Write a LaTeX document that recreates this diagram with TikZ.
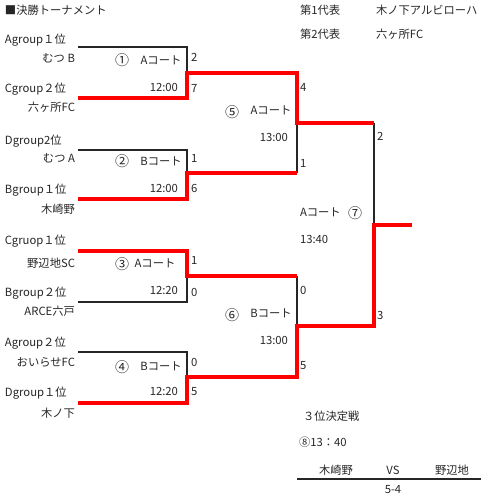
\documentclass[tikz,border=0pt]{standalone}
\usepackage{fontspec}
\setmainfont{Noto Sans CJK JP}
\begin{document}
\begin{tikzpicture}[x=1pt,y=-1pt,
  every node/.style={inner sep=0pt,outer sep=0pt,font=\fontsize{11.3}{13}\selectfont,text=black!85},
  lose/.style={draw=black!85,line width=1.6pt},
  win/.style={draw=red,line width=3.2pt},
  lt/.style={anchor=west},
  rt/.style={anchor=east},
  ct/.style={anchor=center},
  circ/.style={anchor=center,font=\fontsize{14}{16}\selectfont}]
\useasboundingbox (0,0) rectangle (481,499);
% bracket coordinates
\coordinate (a1) at (78,47);   \coordinate (b1) at (187,47);
\coordinate (a2) at (78,98);   \coordinate (b2) at (187,98);
\coordinate (w1) at (187,73);  \coordinate (w1r) at (297,73);
\coordinate (a3) at (78,150);  \coordinate (b3) at (187,150);
\coordinate (a4) at (78,199);  \coordinate (b4) at (187,199);
\coordinate (w2) at (187,173); \coordinate (w2r) at (297,173);
\coordinate (a5) at (78,251);  \coordinate (b5) at (187,251);
\coordinate (a6) at (78,302);  \coordinate (b6) at (187,302);
\coordinate (w3) at (187,276); \coordinate (w3r) at (297,276);
\coordinate (a7) at (78,352);  \coordinate (b7) at (187,352);
\coordinate (a8) at (78,403);  \coordinate (b8) at (187,403);
\coordinate (w4) at (187,377); \coordinate (w4r) at (297,377);
\coordinate (w5) at (297,123); \coordinate (w5r) at (374,123);
\coordinate (w6) at (297,326); \coordinate (w6r) at (374,326);
\coordinate (w7) at (374,225); \coordinate (w7r) at (412,225);
\coordinate (bl) at (297,479); \coordinate (br) at (481,479);
% losing paths
\draw[lose] (a1) -- (b1) -- (w1);
\draw[lose] (a3) -- (b3) -- (w2);
\draw[lose] (a6) -- (b6) -- (w3);
\draw[lose] (a7) -- (b7) -- (w4);
\draw[lose] (w5) -- (w2r);
\draw[lose] (w3r) -- (w6);
\draw[lose] (w5r) -- (w7);
% winning paths
\draw[win] (a2) -- (b2) -- (w1) -- (w1r) -- (w5) -- (w5r);
\draw[win] (a4) -- (b4) -- (w2) -- (w2r);
\draw[win] (a5) -- (b5) -- (w3) -- (w3r);
\draw[win] (a8) -- (b8) -- (w4) -- (w4r) -- (w6) -- (w6r) -- (w7) -- (w7r);
% title and representatives
\node[lt] (title) at (5,10) {■決勝トーナメント};
\node[lt] (r1) at (300,10) {第1代表};
\node[lt] (r1n) at (376,10) {木ノ下アルビローハ};
\node[lt] (r2) at (300,34) {第2代表};
\node[lt] (r2n) at (376,34) {六ヶ所FC};
% teams
\node[lt] (g1) at (5,40) {Agroup１位};
\node[rt] (t1) at (75,58) {むつ B};
\node[lt] (g2) at (5,89) {Cgroup２位};
\node[rt] (t2) at (75,107) {六ヶ所FC};
\node[lt] (g3) at (5,141) {Dgroup2位};
\node[rt] (t3) at (75,158) {むつ A};
\node[lt] (g4) at (5,190) {Bgroup１位};
\node[rt] (t4) at (75,209) {木崎野};
\node[lt] (g5) at (5,241) {Cgruop１位};
\node[rt] (t5) at (75,263) {野辺地SC};
\node[lt] (g6) at (5,293) {Bgroup２位};
\node[rt] (t6) at (75,311) {ARCE六戸};
\node[lt] (g7) at (5,343) {Agroup２位};
\node[rt] (t7) at (75,362) {おいらせFC};
\node[lt] (g8) at (5,393) {Dgroup１位};
\node[rt] (t8) at (75,413) {木ノ下};
% match info
\node[circ] (n1) at (122,60) {①};
\node[ct] (c1) at (161,60) {Aコート};
\node[rt] (h1) at (178,87) {12:00};
\node[circ] (n2) at (122,161) {②};
\node[ct] (c2) at (161,161) {Bコート};
\node[rt] (h2) at (178,188) {12:00};
\node[circ] (n3) at (122,264) {③};
\node[ct] (c3) at (155,263) {Aコート};
\node[rt] (h3) at (178,290) {12:20};
\node[circ] (n4) at (122,367) {④};
\node[ct] (c4) at (161,366) {Bコート};
\node[rt] (h4) at (178,391) {12:20};
\node[circ] (n5) at (232,112) {⑤};
\node[ct] (c5) at (271,110) {Aコート};
\node[rt] (h5) at (288,137) {13:00};
\node[circ] (n6) at (232,315) {⑥};
\node[ct] (c6) at (271,313) {Bコート};
\node[rt] (h6) at (288,340) {13:00};
\node[lt] (c7) at (300,212) {Aコート};
\node[circ] (n7) at (355,213) {⑦};
\node[lt] (h7) at (300,239) {13:40};
% scores
\node[lt] (s1) at (191,57) {2};
\node[lt] (s2) at (191,88) {7};
\node[lt] (s3) at (191,158) {1};
\node[lt] (s4) at (191,188) {6};
\node[lt] (s5) at (191,260) {1};
\node[lt] (s6) at (191,292) {0};
\node[lt] (s7) at (191,362) {0};
\node[lt] (s8) at (191,392) {5};
\node[lt] (s9) at (300,87) {4};
\node[lt] (s10) at (300,163) {1};
\node[lt] (s11) at (300,290) {0};
\node[lt] (s12) at (300,366) {5};
\node[lt] (s13) at (377,136) {2};
\node[lt] (s14) at (377,315) {3};
% third place
\node[lt] (tp) at (303,416) {３位決定戦};
\node[lt] (tpt) at (299,442) {⑧13：40};
\node[ct] (tpa) at (336,470) {木崎野};
\node[ct] (tpv) at (393,470) {VS};
\node[ct] (tpb) at (452,470) {野辺地};
\draw[lose] (bl) -- (br);
\node[ct] (tps) at (393,490) {5-4};
\end{tikzpicture}
\end{document}
